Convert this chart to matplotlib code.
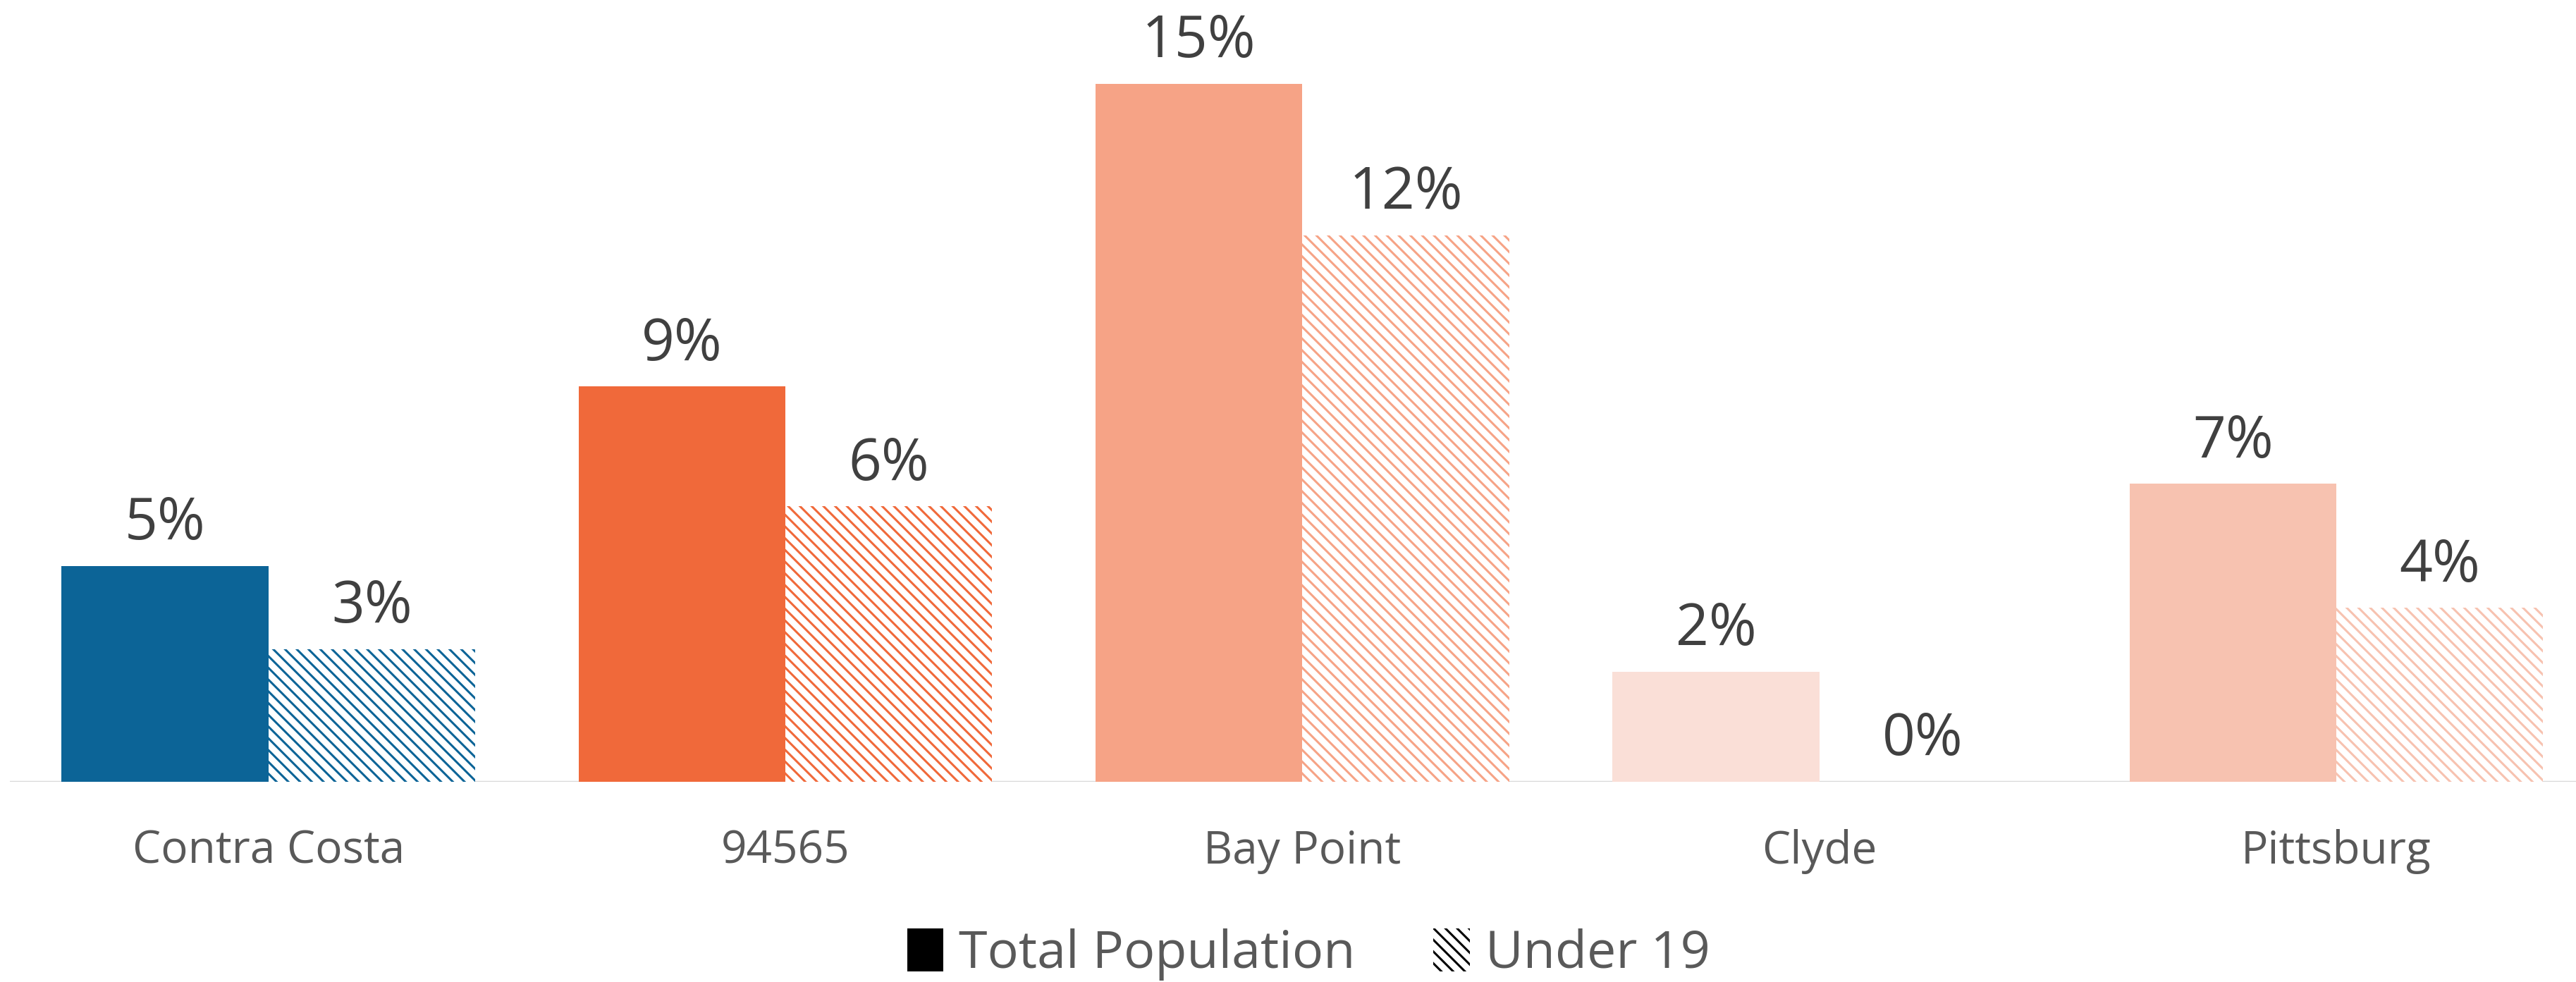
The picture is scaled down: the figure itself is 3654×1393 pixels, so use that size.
import numpy as np
import matplotlib
matplotlib.use('Agg')
import matplotlib.pyplot as plt
from matplotlib.patches import Patch

# data
categories = ['Contra Costa', '94565', 'Bay Point', 'Clyde', 'Pittsburg']
total_pop = [4.76, 8.72, 15.4, 2.43, 6.58]
under_19 = [2.93, 6.08, 12.06, 0.0, 3.84]
bar_colors = ['#0C6497', '#F0693A', '#F6A386', '#FADFD7', '#F7C2B0']

plt.rcParams['font.family'] = ['Open Sans', 'DejaVu Sans']
plt.rcParams['hatch.linewidth'] = 2.2

fig = plt.figure(figsize=(36.54, 13.93), dpi=100)
ax = fig.add_axes([14 / 3654, 1 - 1109 / 1393, 1 - 14 / 3654, 1109 / 1393])

x = np.arange(len(categories))
w = 0.4

ax.bar(x - w / 2, total_pop, w, color=bar_colors, linewidth=0)
ax.bar(x + w / 2, under_19, w, facecolor='white', edgecolor=bar_colors,
       hatch='\\\\', linewidth=0)

for xi, v in zip(x - w / 2, total_pop):
    ax.annotate(f'{round(v)}%', (xi, v), xytext=(0, 27), textcoords='offset points',
                ha='center', va='baseline', fontsize=59, color='#404040')
for xi, v in zip(x + w / 2, under_19):
    ax.annotate(f'{round(v)}%', (xi, v), xytext=(0, 27), textcoords='offset points',
                ha='center', va='baseline', fontsize=59, color='#404040')

ax.set_xlim(-0.5, (3654 - 380) / 733.5)
ax.set_ylim(0, 1109 / (990 / 15.4))
ax.axhline(0, color='#D9D9D9', lw=2.5, zorder=0.5)

ax.set_xticks(x)
ax.set_xticklabels(categories, fontsize=46, color='#595959')
ax.tick_params(axis='x', length=0, pad=48)
ax.set_yticks([])
for s in ax.spines.values():
    s.set_visible(False)

handles = [Patch(facecolor='black', edgecolor='black', linewidth=0),
           Patch(facecolor='white', edgecolor='black', hatch='\\\\', linewidth=0)]
fig.legend(handles, ['Total Population', 'Under 19'], loc='center',
           bbox_to_anchor=(0.508, 0.028), ncol=2, frameon=False, fontsize=53,
           labelcolor='#595959', handlelength=0.7, handleheight=0.9,
           handletextpad=0.3, columnspacing=1.5)

fig.savefig('out.png', dpi=100)
